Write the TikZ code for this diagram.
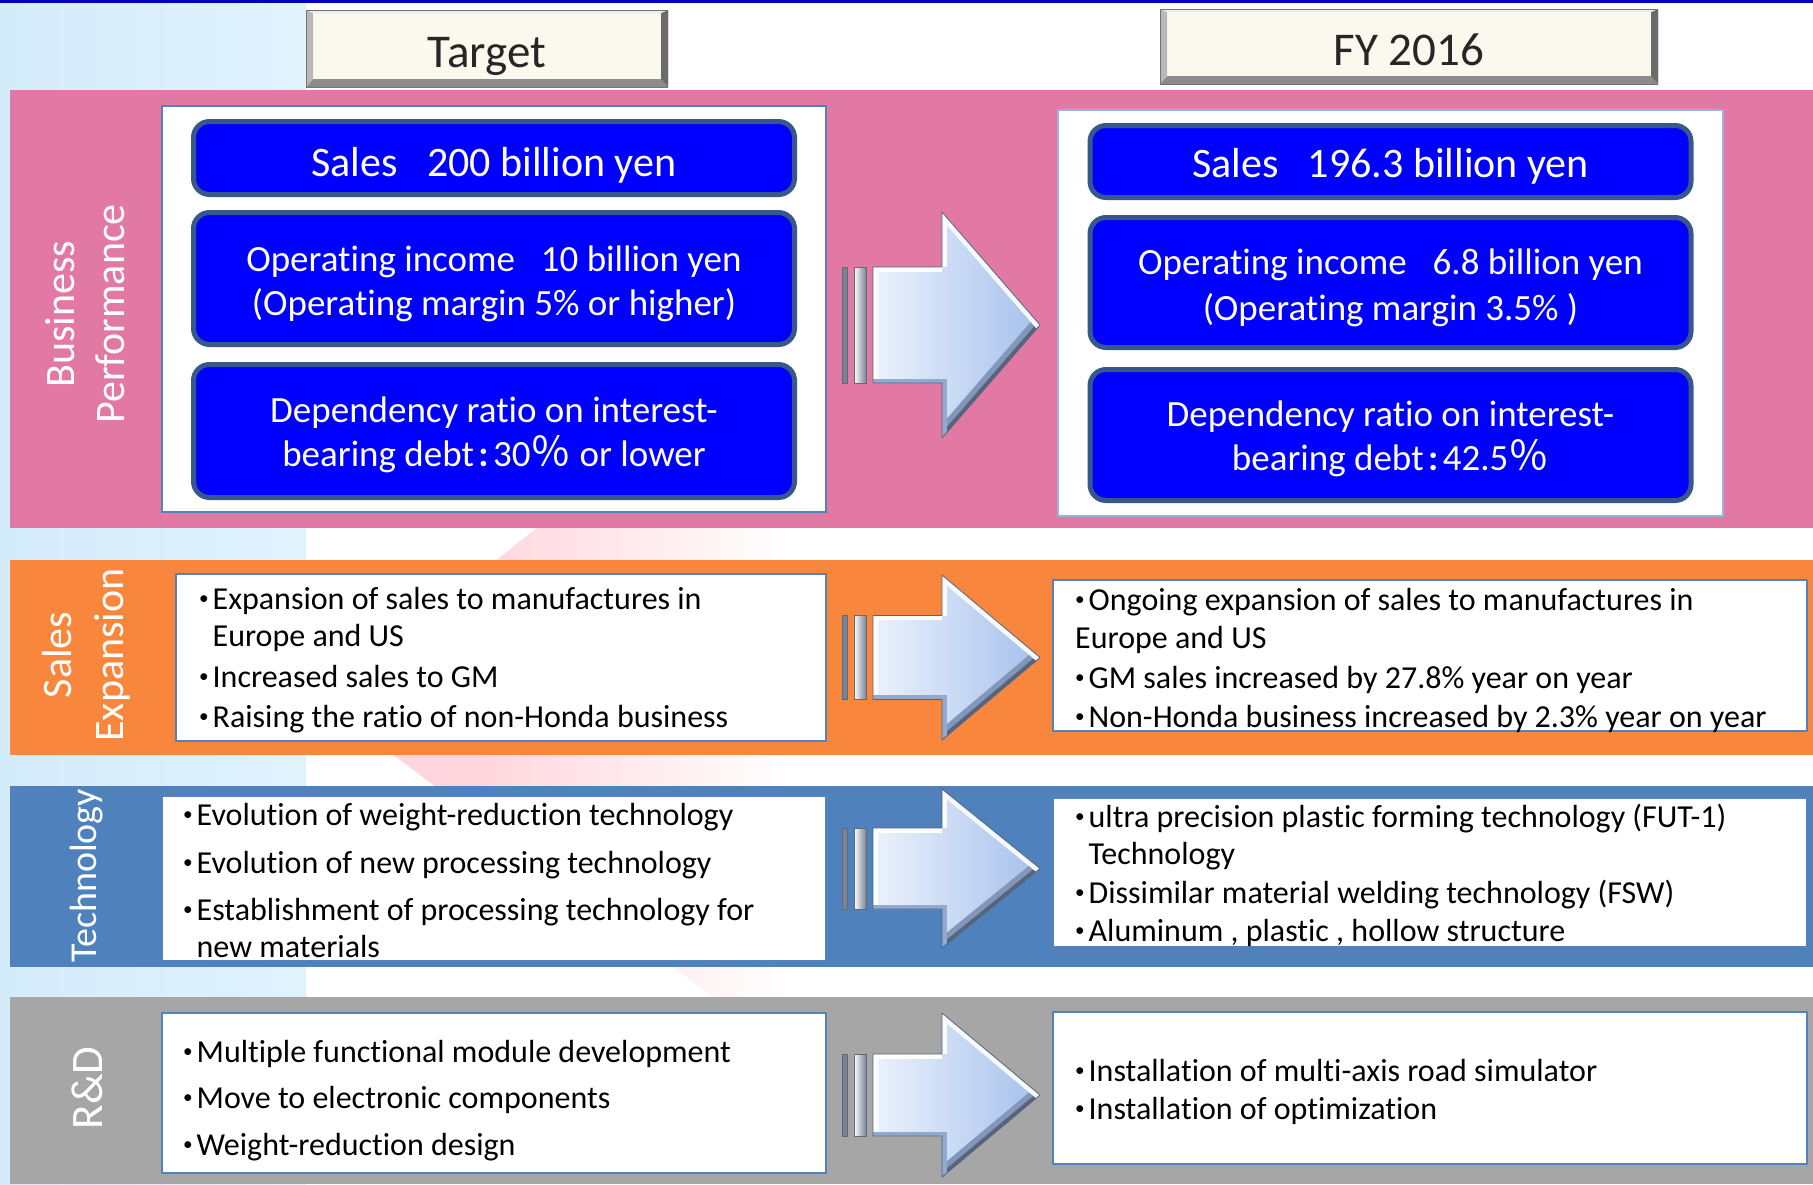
\documentclass[tikz,border=0pt]{standalone}
\usepackage{graphicx}
\usepackage{fontspec}
\setmainfont{Carlito}[Ligatures=NoCommon]
\newfontfamily\cjk{Noto Sans CJK JP}
\usetikzlibrary{positioning,calc}

\definecolor{bandpink}{RGB}{226,121,164}
\definecolor{bandorange}{RGB}{248,134,61}
\definecolor{bandblue}{RGB}{79,129,189}
\definecolor{bandgray}{RGB}{166,166,166}
\definecolor{skyleft}{RGB}{212,235,250}
\definecolor{skyright}{RGB}{224,243,253}
\definecolor{fadepink}{RGB}{255,214,222}
\definecolor{topline}{RGB}{0,0,200}
\definecolor{boxblue}{RGB}{0,0,255}
\definecolor{boxedge}{RGB}{56,88,140}
\definecolor{paneledge}{RGB}{84,130,190}
\definecolor{cream}{RGB}{251,249,238}
\definecolor{arrowlight}{RGB}{236,242,252}
\definecolor{arrowdark}{RGB}{166,193,236}
\definecolor{arrowedge}{RGB}{86,100,124}
\definecolor{barshade}{RGB}{120,132,150}

% small list bullet and the matching hanging indent
\newcommand{\bul}{\makebox[0.42em][l]{\raisebox{0.14em}{\scalebox{0.6}{•}}}}
\newcommand{\ind}{\hspace*{0.42em}}
% wide colon and percent sign
\newcommand{\zcolon}{\hspace{0.12em}{\bfseries :}\hspace{0.12em}}
\newcommand{\zpct}{{\cjk\scalebox{1.1}{％}}}

% bevelled block arrow: centre y, half shaft height, half head height
\newcommand{\bevelarrow}[3]{%
  \shade[left color=barshade, middle color=white, right color=barshade] (842,{#1-#2}) rectangle (847,{#1+#2});
  \shade[left color=white, middle color=arrowlight, right color=barshade] (854,{#1-#2}) rectangle (866,{#1+#2});
  \draw[barshade!80!black, line width=0.6pt] (842,{#1-#2}) rectangle (847,{#1+#2}) (854,{#1-#2}) rectangle (866,{#1+#2});
  \shade[left color=arrowlight, right color=arrowdark] (873,{#1-#2}) -- (942,{#1-#2}) -- (942,{#1-#3}) -- (1040,#1) -- (942,{#1+#3}) -- (942,{#1+#2}) -- (873,{#1+#2}) -- cycle;
  \begin{scope}
    \clip (873,{#1-#2}) -- (942,{#1-#2}) -- (942,{#1-#3}) -- (1040,#1) -- (942,{#1+#3}) -- (942,{#1+#2}) -- (873,{#1+#2}) -- cycle;
    \draw[line width=18pt, arrowedge!45!arrowdark] (1040,#1) -- (942,{#1+#3});
    \draw[line width=7pt, arrowedge] (1040,#1) -- (942,{#1+#3});
    \draw[line width=10pt, white!55!arrowlight] (942,{#1-#3}) -- (1040,#1);
    \draw[line width=9pt, white] (873,{#1-#2}) -- (942,{#1-#2});
    \draw[line width=9pt, white!80!arrowlight] (873,{#1-#2}) -- (873,{#1+#2});
    \draw[line width=9pt, arrowdark!75!arrowedge] (873,{#1+#2}) -- (942,{#1+#2}) -- (942,{#1+#3});
    \draw[line width=9pt, white!70!arrowlight] (942,{#1-#2}) -- (942,{#1-#3});
  \end{scope}
  \draw[arrowedge, line width=0.8pt, line join=round] (873,{#1-#2}) -- (942,{#1-#2}) -- (942,{#1-#3}) -- (1040,#1) -- (942,{#1+#3}) -- (942,{#1+#2}) -- (873,{#1+#2}) -- cycle;
}

\begin{document}
\begin{tikzpicture}[x=1pt, y=-1pt,
    panel/.style={draw=paneledge, line width=1.5pt, fill=white, inner sep=0pt},
    goalbox/.style={draw=boxedge, line width=5pt, fill=boxblue, rounded corners=16pt, inner sep=0pt, minimum width=601pt},
    goaltext/.style={text=white, align=center, inner sep=0pt},
    headbox/.style={fill=cream, inner sep=0pt, text=black!85, font=\fontsize{47}{56}\selectfont,
        text height=37pt, text depth=0pt,
        path picture={
            \coordinate (sw) at (path picture bounding box.south west);
            \coordinate (ne) at (path picture bounding box.north east);
            \coordinate (se) at (sw -| ne);
            \coordinate (nw) at (ne -| sw);
            \fill[black!45] (sw) -- (se) -- ([shift={(-7pt,8pt)}]se) -- ([shift={(7pt,8pt)}]sw) -- cycle;
            \fill[black!58] (se) -- (ne) -- ([shift={(-7pt,-3pt)}]ne) -- ([shift={(-7pt,8pt)}]se) -- cycle;
            \fill[black!28] (sw) -- (nw) -- ([shift={(7pt,-3pt)}]nw) -- ([shift={(7pt,8pt)}]sw) -- cycle;
            \fill[black!8] (nw) -- (ne) -- ([shift={(-7pt,-3pt)}]ne) -- ([shift={(7pt,-3pt)}]nw) -- cycle;
            \draw[black!55, line width=1pt] (sw) rectangle (ne);
        }},
    rowlabel/.style={rotate=90, text=white, align=center, inner sep=0pt},
    item/.style={anchor=base west, inner sep=0pt, font=\fontsize{32}{38}\selectfont}
]
    \useasboundingbox (0,0) rectangle (1813,1184);

    % Background
    \fill[white] (0,0) rectangle (1813,1184);
    \shade[left color=skyleft, right color=skyright] (0,3) rectangle (306,1184);
    \begin{scope}
        \clip (321,700) -- (800,318) -- (800,1063) -- cycle;
        \fill[fadepink] (300,300) rectangle (480,1080);
        \shade[left color=fadepink, right color=white] (480,300) rectangle (790,1080);
    \end{scope}
    \fill[topline] (0,0) rectangle (1813,3);

    % Bands
    \fill[bandpink] (10,90) rectangle (1813,528);
    \fill[bandorange] (10,560) rectangle (1813,755);
    \fill[bandblue] (10,786) rectangle (1813,967);
    \fill[bandgray] (10,997) rectangle (1813,1184);

    % Band titles
    \node[rowlabel, font=\fontsize{42}{50}\selectfont] (lbBP) at (85,314) {Business\\Performance};
    \node[rowlabel, font=\fontsize{42}{52}\selectfont] (lbSE) at (86,655) {Sales\\Expansion};
    \node[rowlabel, font=\fontsize{38}{46}\selectfont] (lbTech) at (87,876) {Technology};
    \node[rowlabel, font=\fontsize{45}{54}\selectfont] (lbRD) at (87,1088) {R\&D};

    % Column headers
    \node[headbox, minimum width=362pt, minimum height=77pt] (hdTarget) at (487,48.5) {Target};
    \node[headbox, minimum width=498pt, minimum height=75pt] (hdFY) at (1409,46.5) {FY 2016};

    % Business performance
    \node[panel, minimum width=664pt, minimum height=406pt] (tgBP) at (494,309) {};
    \node[panel, draw=paneledge!60, minimum width=665pt, minimum height=406pt] (fyBP) at (1390.5,313) {};

    \node[goalbox, minimum height=73pt, label={[goaltext, font=\fontsize{42}{50}\selectfont, yshift=-7pt]center:{Sales\hspace{0.7em}200 billion yen}}] (tg1) at (494,158) {};
    \node[goalbox, minimum height=132pt, below=13pt of tg1, label={[goaltext, font=\fontsize{37}{44}\selectfont, yshift=-5pt]center:{Operating income\hspace{0.7em}10 billion yen\\(Operating margin 5\% or higher)}}] (tg2) {};
    \node[goalbox, minimum height=133pt, below=15pt of tg2, label={[goaltext, font=\fontsize{37}{44}\selectfont, yshift=-4pt]center:{Dependency ratio on interest-\\bearing debt\zcolon 30\zpct{} or lower}}] (tg3) {};

    \node[goalbox, minimum height=72pt, label={[goaltext, font=\fontsize{42}{50}\selectfont, yshift=-5pt]center:{Sales\hspace{0.7em}196.3 billion yen}}] (fy1) at (1390.5,161.5) {};
    \node[goalbox, minimum height=130pt, below=15pt of fy1, label={[goaltext, font=\fontsize{37}{46}\selectfont, yshift=-5pt]center:{Operating income\hspace{0.7em}6.8 billion yen\\(Operating margin 3.5\% )}}] (fy2) {};
    \node[goalbox, minimum height=131pt, below=17pt of fy2, label={[goaltext, font=\fontsize{37}{44}\selectfont, yshift=-4pt]center:{Dependency ratio on interest-\\bearing debt\zcolon 42.5\zpct}}] (fy3) {};

    % Sales expansion
    \node[panel, minimum width=650pt, minimum height=167pt] (tgSE) at (501,657.5) {};
    \node[panel, minimum width=754pt, minimum height=151pt] (fySE) at (1430,655.5) {};
    \foreach \yy/\txt [count=\i] in {609/{\bul Expansion of sales to manufactures in},
            646/{\ind Europe and US}, 687/{\bul Increased sales to GM},
            727/{\bul Raising the ratio of non-Honda business}}
        \node[item] (tgSE-\i) at (199,\yy) {\txt};
    \foreach \yy/\txt [count=\i] in {610/{\bul Ongoing expansion of sales to manufactures in},
            648/{Europe and US}, 688/{\bul GM sales increased by 27.8\% year on year},
            727/{\bul Non-Honda business increased by 2.3\% year on year}}
        \node[item] (fySE-\i) at (1075,\yy) {\txt};

    % Technology
    \node[panel, minimum width=664pt, minimum height=165pt] (tgTech) at (494,878.5) {};
    \node[panel, minimum width=754pt, minimum height=149pt] (fyTech) at (1430,872.5) {};
    \foreach \yy/\txt [count=\i] in {825/{\bul Evolution of weight-reduction technology},
            873/{\bul Evolution of new processing technology},
            920/{\bul Establishment of processing technology for}, 957/{\ind new materials}}
        \node[item] (tgTech-\i) at (183,\yy) {\txt};
    \foreach \yy/\txt [count=\i] in {827/{\bul ultra precision plastic forming technology (FUT-1)},
            864/{\ind Technology}, 903/{\bul Dissimilar material welding technology (FSW)},
            941/{\bul Aluminum , plastic , hollow structure}}
        \node[item] (fyTech-\i) at (1075,\yy) {\txt};

    % R&D
    \node[panel, minimum width=664pt, minimum height=160pt] (tgRD) at (494,1093) {};
    \node[panel, minimum width=754pt, minimum height=152pt] (fyRD) at (1430,1088) {};
    \foreach \yy/\txt [count=\i] in {1062/{\bul Multiple functional module development},
            1108/{\bul Move to electronic components}, 1155/{\bul Weight-reduction design}}
        \node[item] (tgRD-\i) at (183,\yy) {\txt};
    \foreach \yy/\txt [count=\i] in {1081/{\bul Installation of multi-axis road simulator},
            1119/{\bul Installation of optimization}}
        \node[item] (fyRD-\i) at (1075,\yy) {\txt};

    % Arrows from target to result
    \bevelarrow{325}{58}{113}
    \bevelarrow{657.5}{42}{82.5}
    \bevelarrow{868.5}{40.5}{79.5}
    \bevelarrow{1095}{41}{82}
\end{tikzpicture}
\end{document}
